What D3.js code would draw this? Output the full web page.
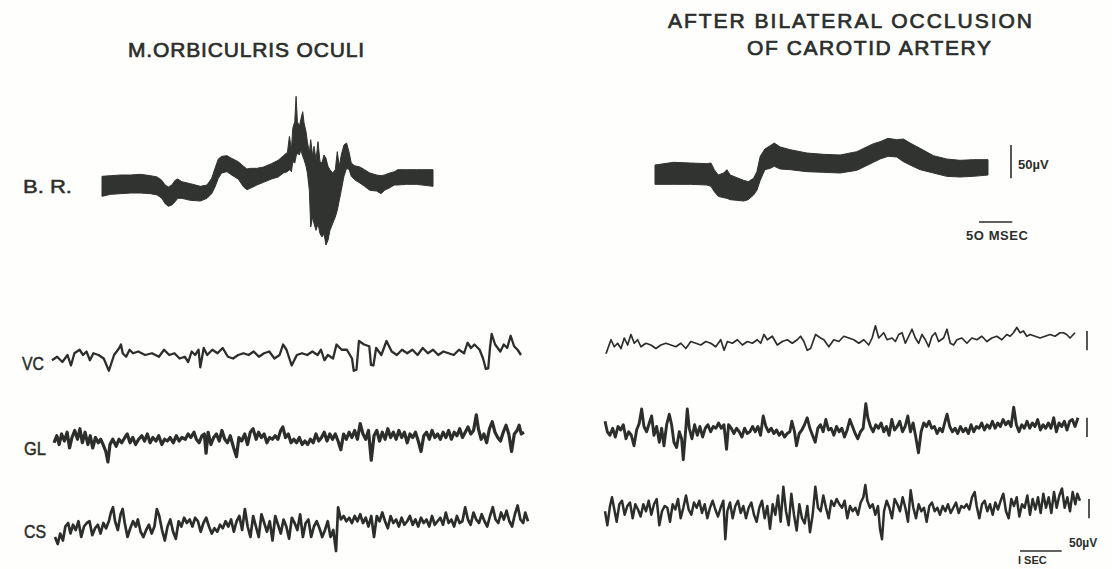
<!DOCTYPE html>
<html>
<head>
<meta charset="utf-8">
<script src="https://cdn.jsdelivr.net/npm/d3@7"></script>
<style>
  html, body { margin: 0; padding: 0; background: #fefefd; }
  svg { display: block; }
  text { font-family: "Liberation Sans", Arial, sans-serif; fill: #2b2e2b; }
</style>
</head>
<body>
<div id="chart"></div>
<script>
// ---- blink reflex (B.R.), time in ms, band edges in µV ----
const brLeftMs  = [0,13,28,43,58,73,83,90,95,100,105,110,114,120,133,148,158,165,170,175,180,188,195,205,213,218,223,233,243,255,265,273,279,282,285,287,290,292,294,297,299,302,304,307,309,312,314,317,319,322,325,328,331,334,337,340,343,347,351,354,357,360,364,368,372,375,380,388,395,403,413,420,425,433,440,445,458,473,498];
const brLeftTop = [13,14,15,15,16,14,12,7,0,-3,0,7,9,5,2,-2,0,10,25,39,43,44,40,35,28,24,25,25,27,32,37,44,49,73,53,85,95,133,95,88,98,110,93,80,65,48,68,43,58,38,65,35,33,45,40,28,23,18,23,50,28,45,60,63,48,33,29,27,23,18,15,14,15,18,20,23,23,23,23];
const brLeftBot = [-17,-14,-13,-12,-12,-13,-15,-20,-28,-32,-30,-25,-20,-20,-23,-24,-20,-13,-3,10,18,20,15,9,-3,-7,-5,0,4,9,12,18,20,23,20,35,33,43,48,45,53,43,38,28,18,-8,-63,-48,-58,-68,-58,-73,-78,-73,-90,-83,-68,-58,-48,-38,-23,-8,13,25,23,13,8,3,-2,-8,-9,-13,-8,-4,0,0,1,1,-2];

const brRightMs  = [0,28,53,78,84,89,95,103,108,113,123,133,140,148,153,158,165,173,179,188,203,228,253,278,303,328,338,350,363,373,383,398,418,438,458,478,500];
const brRightTop = [15,19,18,17,18,8,0,3,8,0,-4,-8,-10,-5,5,28,39,44,48,42,38,33,31,30,35,47,50,55,53,54,48,40,29,24,22,23,23];
const brRightBot = [-14,-14,-14,-15,-17,-25,-32,-34,-35,-37,-38,-39,-37,-30,-23,-8,8,10,13,9,8,5,4,3,7,19,24,28,27,20,15,8,3,-2,-3,-2,0];

// ---- EEG traces: [tick (8 ms), µV] ----
const TICK_S = 0.008;
const vcLeft = [[0,-15],[15,-5],[30,-20],[45,0],[55,-30],[65,5],[80,15],[90,0],[100,10],[110,-15],[120,5],[135,0],[150,-10],[165,-45],[180,0],[195,20],[200,30],[205,5],[215,-5],[225,15],[235,5],[250,10],[270,0],[290,5],[310,-5],[325,15],[340,0],[355,5],[370,-10],[385,-5],[395,-20],[405,10],[415,0],[425,15],[430,-35],[440,20],[450,0],[465,15],[480,5],[495,20],[510,-5],[525,-10],[540,0],[555,5],[570,0],[585,10],[600,-5],[615,5],[630,10],[645,-10],[660,0],[670,30],[680,15],[695,-30],[710,0],[725,5],[740,0],[755,10],[770,0],[780,15],[790,-15],[800,0],[815,-10],[825,30],[840,15],[855,15],[870,-10],[875,-45],[883,-42],[890,40],[905,30],[920,25],[925,-28],[932,-30],[940,20],[955,0],[970,40],[985,10],[1000,0],[1015,15],[1030,5],[1045,15],[1060,0],[1075,20],[1090,5],[1105,15],[1120,0],[1135,10],[1150,5],[1165,0],[1180,15],[1195,5],[1205,35],[1215,20],[1225,30],[1240,15],[1250,-10],[1258,-40],[1265,-38],[1270,20],[1275,60],[1285,30],[1300,10],[1310,30],[1320,20],[1330,55],[1340,25],[1350,15],[1360,0]];

const vcRight = [[0,-25],[15,15],[25,-5],[35,5],[45,-10],[55,20],[65,0],[75,30],[85,5],[95,15],[105,-5],[120,5],[135,0],[150,-10],[165,0],[180,5],[195,0],[210,-5],[225,5],[240,-10],[255,10],[270,5],[285,0],[300,10],[315,5],[330,-5],[345,15],[355,-15],[365,10],[380,5],[395,15],[410,0],[425,10],[440,5],[455,15],[465,5],[475,30],[485,15],[500,25],[515,0],[530,10],[545,15],[560,5],[575,15],[585,25],[595,10],[605,-15],[615,-10],[630,30],[645,20],[655,15],[670,-5],[685,15],[700,10],[715,25],[730,20],[745,15],[760,5],[775,15],[790,0],[800,20],[810,55],[820,20],[835,35],[845,15],[860,20],[870,10],[880,30],[890,35],[900,5],[910,25],[920,45],[930,20],[940,5],[950,30],[960,15],[970,-5],[980,25],[990,35],[1000,10],[1015,20],[1025,45],[1035,5],[1045,0],[1055,15],[1070,20],[1085,5],[1100,20],[1115,15],[1130,25],[1145,10],[1160,20],[1175,25],[1190,15],[1205,30],[1215,25],[1225,35],[1235,50],[1245,35],[1255,40],[1265,25],[1275,30],[1290,25],[1305,20],[1320,25],[1335,30],[1350,25],[1365,35],[1375,35],[1385,30],[1395,20],[1405,30],[1410,35]];

const glLeft = [[0,-5],[8,15],[15,-10],[22,20],[30,0],[38,25],[45,-20],[52,10],[60,30],[68,5],[75,35],[82,-5],[90,25],[98,-10],[105,15],[112,-20],[120,10],[128,-5],[135,5],[142,-10],[150,-30],[156,-60],[162,-10],[170,5],[180,-15],[188,5],[196,-5],[205,10],[212,20],[220,-5],[228,10],[236,-10],[245,5],[254,15],[262,0],[270,20],[278,-5],[286,10],[295,0],[303,15],[312,-10],[320,5],[328,0],[336,10],[345,-5],[354,15],[362,0],[370,10],[380,5],[388,20],[396,10],[405,25],[412,5],[420,-5],[428,15],[435,20],[440,-35],[446,25],[454,-10],[462,10],[470,20],[478,0],[486,30],[494,5],[502,-5],[510,15],[520,-20],[528,-45],[535,10],[543,0],[552,20],[560,-10],[568,25],[576,35],[585,5],[592,25],[600,10],[608,20],[616,-5],[624,10],[632,5],[640,15],[648,5],[656,30],[662,40],[670,10],[678,20],[686,-5],[694,5],[702,-5],[710,10],[718,-10],[726,0],[734,-10],[742,5],[750,-5],[758,20],[766,0],[774,10],[782,25],[790,0],[798,20],[806,5],[814,20],[822,0],[830,-25],[838,20],[846,5],[854,25],[862,10],[870,30],[878,5],[886,50],[894,20],[902,5],[910,30],[918,-55],[926,15],[934,30],[942,0],[950,25],[958,5],[966,35],[974,10],[982,25],[990,5],[998,30],[1006,10],[1014,25],[1022,-5],[1030,20],[1038,10],[1046,25],[1054,0],[1062,-30],[1070,15],[1078,25],[1086,5],[1094,30],[1102,10],[1110,20],[1118,5],[1126,25],[1134,10],[1142,30],[1150,5],[1158,25],[1166,15],[1174,35],[1182,10],[1190,25],[1198,40],[1206,20],[1214,30],[1222,75],[1228,35],[1236,5],[1244,20],[1252,-5],[1260,35],[1268,55],[1276,25],[1284,10],[1292,0],[1300,25],[1308,45],[1316,20],[1324,-30],[1332,20],[1340,30],[1346,45],[1352,20],[1360,25]];

const glRight = [[0,25],[7,-5],[15,-15],[23,5],[31,-20],[39,10],[47,0],[55,15],[63,-25],[71,-5],[79,-15],[87,-45],[95,0],[103,20],[110,60],[117,10],[125,-5],[133,20],[140,40],[147,-15],[155,10],[163,-35],[170,5],[177,-45],[185,15],[193,45],[200,15],[207,-35],[215,-50],[223,-5],[230,-25],[235,-85],[241,-15],[247,60],[253,5],[261,-25],[269,15],[277,-15],[285,10],[293,-20],[301,5],[309,15],[317,-5],[325,10],[333,5],[341,20],[349,5],[357,15],[365,-55],[371,15],[379,5],[387,-10],[395,5],[403,-5],[411,-20],[419,5],[427,-10],[435,-5],[443,10],[451,-5],[459,10],[467,-15],[475,40],[483,10],[491,-5],[499,5],[507,-10],[515,0],[523,-15],[531,-5],[539,-20],[547,-10],[555,-5],[561,25],[569,-5],[575,-45],[583,-10],[591,0],[599,15],[607,35],[615,5],[623,-15],[631,-35],[639,5],[647,15],[655,-5],[663,30],[671,0],[679,5],[687,-15],[695,10],[703,-5],[711,5],[719,-20],[727,0],[735,30],[743,10],[751,-10],[759,-25],[767,-5],[775,5],[783,75],[789,35],[797,10],[805,-5],[813,15],[821,5],[829,20],[837,-5],[845,10],[853,-15],[861,30],[869,0],[877,10],[885,25],[893,-5],[901,10],[909,40],[917,-5],[925,20],[933,-20],[941,-65],[949,-5],[957,20],[965,10],[973,25],[981,5],[989,10],[997,-10],[1005,5],[1013,-5],[1021,25],[1027,45],[1035,10],[1043,-5],[1051,5],[1059,-10],[1067,10],[1075,-5],[1083,5],[1091,-10],[1099,15],[1107,-5],[1115,10],[1123,5],[1131,20],[1139,0],[1147,15],[1155,5],[1163,25],[1171,5],[1179,20],[1187,10],[1195,30],[1203,15],[1211,25],[1219,10],[1227,65],[1235,15],[1243,-5],[1251,15],[1259,5],[1267,25],[1275,5],[1283,20],[1291,10],[1299,30],[1307,0],[1315,15],[1323,5],[1331,20],[1339,5],[1347,35],[1355,-5],[1363,20],[1371,10],[1379,25],[1387,0],[1395,25],[1403,30],[1411,10],[1420,35]];

const csLeft = [[0,-20],[8,-40],[15,-10],[23,-30],[30,10],[38,20],[45,-10],[52,15],[60,0],[68,25],[76,-20],[84,10],[92,20],[100,25],[108,-15],[116,5],[124,15],[132,-10],[140,20],[148,5],[156,25],[162,50],[168,65],[174,25],[182,0],[190,45],[196,60],[202,20],[210,-20],[218,5],[226,25],[234,10],[240,30],[248,-5],[256,-20],[264,0],[272,15],[280,-10],[288,10],[295,60],[302,40],[310,0],[318,-30],[326,10],[334,30],[342,-5],[350,-25],[358,25],[366,10],[374,35],[382,20],[390,30],[398,10],[406,35],[414,25],[422,-5],[430,20],[438,35],[446,10],[454,-10],[462,5],[470,-5],[478,15],[486,5],[494,25],[502,10],[510,30],[518,-5],[526,25],[534,40],[542,0],[550,60],[558,10],[566,-20],[574,40],[582,10],[590,-20],[598,45],[606,20],[614,-5],[622,25],[630,-30],[638,40],[646,15],[654,-10],[662,30],[670,10],[678,-25],[686,35],[694,20],[702,0],[710,45],[718,-20],[726,20],[734,30],[742,-20],[750,10],[758,25],[766,5],[774,-20],[782,0],[790,25],[798,-20],[806,0],[814,-60],[820,65],[828,30],[836,40],[844,25],[852,35],[860,20],[868,40],[876,25],[884,45],[892,20],[900,35],[908,10],[916,40],[924,-20],[932,40],[940,25],[948,50],[956,25],[964,5],[972,40],[980,20],[988,30],[996,10],[1004,35],[1012,15],[1020,25],[1028,40],[1036,15],[1044,30],[1052,10],[1060,35],[1068,20],[1076,30],[1084,10],[1092,40],[1100,15],[1108,25],[1116,35],[1124,15],[1132,50],[1140,20],[1148,30],[1156,10],[1164,40],[1172,20],[1180,25],[1188,65],[1196,30],[1204,15],[1212,50],[1220,30],[1228,20],[1236,45],[1244,25],[1252,10],[1260,40],[1268,65],[1276,30],[1284,20],[1292,50],[1300,30],[1308,55],[1316,25],[1324,10],[1332,45],[1340,70],[1348,30],[1356,20],[1362,50],[1370,25]];

const csRight = [[0,5],[7,-35],[15,20],[21,45],[27,15],[35,-25],[43,25],[51,35],[59,-5],[67,20],[75,30],[83,-15],[91,25],[99,10],[107,-10],[115,25],[123,5],[131,35],[139,-5],[147,25],[155,40],[163,-35],[171,5],[179,20],[187,15],[195,-25],[203,25],[211,10],[219,40],[227,-15],[235,15],[243,50],[251,10],[259,-5],[267,30],[275,15],[283,35],[291,0],[299,25],[307,-15],[315,15],[323,35],[331,10],[339,-10],[347,15],[355,35],[361,-75],[367,5],[375,30],[383,-15],[391,20],[399,35],[407,0],[415,20],[423,-15],[431,15],[439,30],[447,-5],[455,-25],[463,15],[471,35],[479,-15],[487,20],[495,-45],[503,25],[511,-5],[519,50],[527,-25],[535,75],[543,5],[551,-35],[559,55],[567,-5],[575,-50],[583,25],[591,-15],[599,-30],[607,20],[615,-55],[623,-5],[631,75],[639,15],[647,5],[655,50],[663,15],[671,-15],[679,35],[687,20],[695,40],[703,25],[711,15],[719,35],[727,-15],[735,20],[743,5],[751,15],[759,-5],[767,30],[775,45],[781,80],[787,35],[795,15],[803,25],[811,-5],[819,20],[825,-45],[831,-75],[837,5],[845,35],[853,15],[861,-15],[869,40],[877,25],[885,5],[893,45],[901,15],[909,-25],[917,65],[925,15],[933,-15],[941,25],[949,5],[957,15],[965,-25],[973,20],[981,30],[989,5],[997,15],[1005,-5],[1013,20],[1021,5],[1029,25],[1037,0],[1045,15],[1053,30],[1061,0],[1069,20],[1077,15],[1085,25],[1093,10],[1101,45],[1109,60],[1115,20],[1123,-15],[1131,25],[1139,35],[1147,5],[1155,25],[1163,-5],[1171,30],[1179,10],[1187,35],[1195,55],[1203,5],[1211,-15],[1219,40],[1227,20],[1235,45],[1243,-10],[1251,25],[1259,15],[1267,50],[1275,-5],[1283,40],[1291,10],[1299,45],[1307,0],[1315,55],[1323,15],[1331,45],[1339,0],[1347,60],[1355,15],[1363,50],[1371,70],[1379,15],[1387,45],[1395,5],[1403,60],[1411,25],[1417,55],[1425,35]];

const rowLabels = ["B. R.", "VC", "GL", "CS"];
const leftTitle = "M.ORBICULRIS  OCULI";
const rightTitle = ["AFTER  BILATERAL  OCCLUSION", "OF  CAROTID  ARTERY"];

// ---- drawing ----
const W = 1112, H = 569, ink = "#2b2e2b";
const svg = d3.select("#chart").append("svg").attr("width", W).attr("height", H);
svg.append("rect").attr("width", W).attr("height", H).attr("fill", "#fefefd");

function title(txt, x, y, len) {
    svg.append("text").attr("x", x).attr("y", y)
        .attr("textLength", len).attr("lengthAdjust", "spacing")
        .style("font-size", "21px").style("stroke", ink).style("stroke-width", 0.7)
        .text(txt);
}
title(leftTitle, 128, 57, 236);
title(rightTitle[0], 668, 28, 364);
title(rightTitle[1], 747, 55, 244);

// row labels
const labelPos = [[23, 193, 49], [22, 370, 22], [24, 455, 22], [24, 538, 22]];
rowLabels.forEach((l, i) => {
    svg.append("text").attr("x", labelPos[i][0]).attr("y", labelPos[i][1])
        .attr("textLength", labelPos[i][2]).attr("lengthAdjust", "spacingAndGlyphs")
        .style("font-size", "19px").style("stroke", ink).style("stroke-width", 0.5)
        .text(l);
});

// blink reflex bands
const brUv = 2 / 3;  // px per µV
function drawBR(ms, top, bot, x0, x1, base) {
    const x = d3.scaleLinear().domain([0, d3.max(ms)]).range([x0, x1]);
    const y = d3.scaleLinear().domain([-50, 50]).range([base + 50 * brUv, base - 50 * brUv]);
    const rows = ms.map((t, i) => ({t, top: top[i], bot: bot[i]}));
    svg.append("path").datum(rows)
        .attr("d", d3.area().x(d => x(d.t)).y0(d => y(d.bot)).y1(d => y(d.top)))
        .attr("fill", "#30332f").attr("stroke", "#30332f").attr("stroke-width", 1);
    return {x, y};
}
drawBR(brLeftMs, brLeftTop, brLeftBot, 102, 433, 185);
const brR = drawBR(brRightMs, brRightTop, brRightBot, 655, 988, 175);

// BR calibration
svg.append("line").attr("x1", 1011).attr("x2", 1011)
    .attr("y1", brR.y(45)).attr("y2", brR.y(-5))
    .attr("stroke", ink).attr("stroke-width", 1.6);
svg.append("text").attr("x", 1018).attr("y", 169)
    .style("font-size", "13px").style("font-weight", "bold").text("50µV");
const msPx = brR.x(50) - brR.x(0);
svg.append("line").attr("x1", 979).attr("x2", 979 + msPx).attr("y1", 222).attr("y2", 222)
    .attr("stroke", ink).attr("stroke-width", 1.6);
svg.append("text").attr("x", 966).attr("y", 240).attr("textLength", 62).attr("lengthAdjust", "spacing")
    .style("font-size", "13px").style("font-weight", "bold").text("5O MSEC");

// EEG traces
const eegUv = 0.35;
const traces = [
    {d: vcLeft,  x0: 52,  x1: 521,  base: 355, w: 2.3},
    {d: glLeft,  x0: 54,  x1: 524,  base: 441, w: 3.2},
    {d: csLeft,  x0: 55,  x1: 528,  base: 530, w: 2.7},
    {d: vcRight, x0: 606, x1: 1075, base: 345, w: 1.7},
    {d: glRight, x0: 605, x1: 1078, base: 430, w: 2.9},
    {d: csRight, x0: 605, x1: 1080, base: 513, w: 2.5}
];
let lastX;
traces.forEach(tr => {
    const x = d3.scaleLinear().domain([0, d3.max(tr.d, p => p[0]) * TICK_S]).range([tr.x0, tr.x1]);
    const y = d3.scaleLinear().domain([-50, 50]).range([tr.base + 50 * eegUv, tr.base - 50 * eegUv]);
    svg.append("path").datum(tr.d)
        .attr("d", d3.line().x(p => x(p[0] * TICK_S)).y(p => y(p[1])))
        .attr("fill", "none").attr("stroke", ink)
        .attr("stroke-width", tr.w).attr("stroke-linejoin", "round");
    tr.y = y;
    lastX = x;
});

// EEG calibrations (50 µV bars at right)
[[traces[3], 1087, 40], [traces[4], 1087, 35], [traces[5], 1089, 40]].forEach(([tr, bx, top]) => {
    svg.append("line").attr("x1", bx).attr("x2", bx)
        .attr("y1", tr.y(top)).attr("y2", tr.y(top - 55))
        .attr("stroke", ink).attr("stroke-width", 1.6);
});
const secPx = lastX(1) - lastX(0);
svg.append("line").attr("x1", 1020).attr("x2", 1020 + secPx).attr("y1", 551).attr("y2", 551)
    .attr("stroke", ink).attr("stroke-width", 1.6);
svg.append("text").attr("x", 1069).attr("y", 547)
    .style("font-size", "12px").style("font-weight", "bold").text("50µV");
svg.append("text").attr("x", 1018).attr("y", 564)
    .style("font-size", "11px").style("font-weight", "bold").text("I SEC");
</script>
</body>
</html>
